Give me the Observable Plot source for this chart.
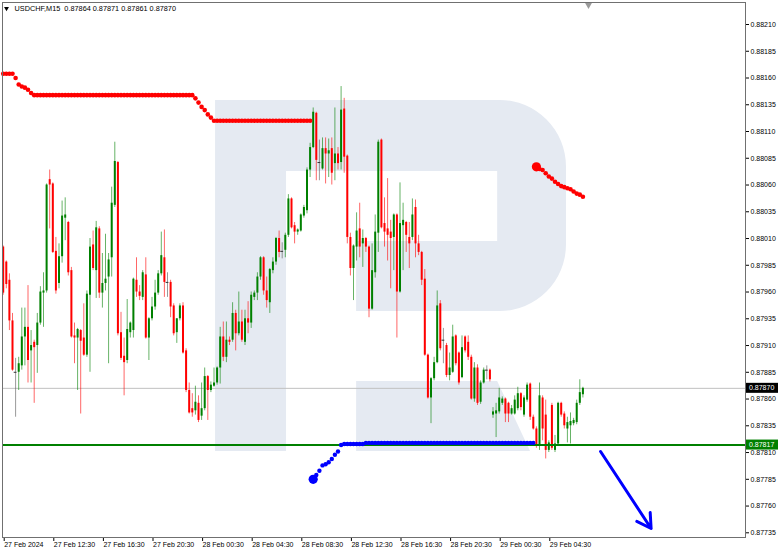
<!DOCTYPE html>
<html><head><meta charset="utf-8">
<script src="https://cdn.jsdelivr.net/npm/d3@7"></script>
<script src="https://cdn.jsdelivr.net/npm/@observablehq/plot@0.6"></script>
<style>
html,body{margin:0;padding:0;background:#fff;}
#chart svg{display:block;}
</style></head><body><div id="chart"></div>
<script>
const symbol = "USDCHF", timeframe = "M15";

// OHLC of each M15 bar (bar 0 = 27 Feb 08:30)
const open = [
0.88002,0.87988,0.87971,0.87933,0.87885,0.87885,0.87891,0.87918,0.87927,0.87905,
0.87913,0.87910,0.87931,0.87959,0.87961,0.88065,0.88061,0.87998,0.87968,0.87993,
0.88029,0.88025,0.87980,0.87919,0.87917,0.87924,0.87917,0.87901,0.87957,0.88004,
0.87980,0.88019,0.87959,0.87968,0.87974,0.87992,0.88041,0.88081,0.87922,0.87900,
0.87896,0.87922,0.87924,0.87971,0.87960,0.87955,0.87976,0.87917,0.87935,0.87946,
0.87959,0.87977,0.87992,0.87969,0.87969,0.87947,0.87922,0.87935,0.87947,0.87905,
0.87868,0.87851,0.87849,0.87856,0.87844,0.87851,0.87881,0.87868,0.87872,0.87875,
0.87889,0.87918,0.87899,0.87915,0.87915,0.87940,0.87921,0.87932,0.87913,0.87935,
0.87931,0.87955,0.87959,0.87974,0.87992,0.87961,0.87950,0.87980,0.87988,0.88010,
0.87998,0.87999,0.88013,0.88047,0.88022,0.88016,0.88017,0.88031,0.88036,0.88074,
0.88095,0.88127,0.88081,0.88075,0.88094,0.88089,0.88094,0.88080,0.88089,0.88081,
0.88131,0.88087,0.88011,0.87982,0.88002,0.88019,0.88005,0.88010,0.88002,0.87944,
0.87978,0.88015,0.88102,0.88024,0.88019,0.88016,0.88011,0.88032,0.87960,0.88022,
0.88025,0.88011,0.88011,0.88039,0.88005,0.87997,0.87972,0.87901,0.87861,0.87879,
0.87894,0.87949,0.87915,0.87910,0.87882,0.87885,0.87919,0.87903,0.87880,0.87918,
0.87913,0.87899,0.87860,0.87889,0.87857,0.87875,0.87887,0.87887,0.87845,0.87846,
0.87848,0.87856,0.87860,0.87856,0.87846,0.87846,0.87851,0.87865,0.87845,0.87859,
0.87874,0.87843,0.87832,0.87817,0.87861,0.87845,0.87812,0.87854,0.87812,0.87818,
0.87856,0.87846,0.87832,0.87835,0.87837,0.87838,0.87856,0.87864];
const high = [
0.88003,0.87989,0.87977,0.87940,0.87898,0.87899,0.87945,0.87945,0.87966,0.87924,
0.87915,0.87940,0.87965,0.87978,0.88061,0.88074,0.88062,0.88011,0.88005,0.88045,
0.88048,0.88026,0.87983,0.87931,0.87926,0.87925,0.87949,0.87961,0.88010,0.88017,
0.88026,0.88021,0.87996,0.88014,0.87996,0.88058,0.88100,0.88082,0.87941,0.87917,
0.87953,0.87932,0.87973,0.87992,0.87966,0.87980,0.87992,0.87936,0.87955,0.87971,
0.87980,0.88016,0.88018,0.87978,0.87971,0.87949,0.87935,0.87949,0.87950,0.87907,
0.87875,0.87865,0.87872,0.87863,0.87875,0.87889,0.87882,0.87876,0.87889,0.87890,
0.87927,0.87932,0.87932,0.87918,0.87950,0.87943,0.87960,0.87943,0.87943,0.87951,
0.87960,0.87961,0.87978,0.87993,0.87993,0.87974,0.87982,0.87992,0.88011,0.88017,
0.88006,0.88015,0.88051,0.88048,0.88025,0.88019,0.88033,0.88041,0.88076,0.88099,
0.88132,0.88128,0.88102,0.88104,0.88104,0.88103,0.88104,0.88132,0.88095,0.88152,
0.88141,0.88088,0.88015,0.88004,0.88034,0.88043,0.88018,0.88011,0.88003,0.88005,
0.88032,0.88102,0.88103,0.88048,0.88066,0.88027,0.88033,0.88033,0.88062,0.88043,
0.88026,0.88025,0.88047,0.88046,0.88013,0.87998,0.87981,0.87902,0.87880,0.87899,
0.87961,0.87952,0.87926,0.87912,0.87903,0.87929,0.87920,0.87904,0.87919,0.87919,
0.87919,0.87901,0.87894,0.87892,0.87877,0.87889,0.87891,0.87888,0.87852,0.87856,
0.87870,0.87862,0.87861,0.87857,0.87854,0.87863,0.87871,0.87866,0.87863,0.87875,
0.87875,0.87845,0.87834,0.87875,0.87863,0.87859,0.87821,0.87856,0.87826,0.87857,
0.87857,0.87848,0.87843,0.87847,0.87842,0.87859,0.87878,0.87871];
const low = [
0.87957,0.87963,0.87924,0.87886,0.87843,0.87868,0.87887,0.87891,0.87875,0.87875,
0.87856,0.87884,0.87929,0.87927,0.87959,0.88019,0.87996,0.87958,0.87963,0.87987,
0.88008,0.87975,0.87917,0.87893,0.87868,0.87846,0.87900,0.87899,0.87885,0.87980,
0.87954,0.87954,0.87945,0.87961,0.87893,0.87974,0.88039,0.87919,0.87896,0.87863,
0.87893,0.87917,0.87917,0.87955,0.87952,0.87952,0.87916,0.87896,0.87933,0.87943,
0.87957,0.87975,0.87955,0.87955,0.87936,0.87919,0.87912,0.87933,0.87902,0.87866,
0.87846,0.87843,0.87845,0.87838,0.87840,0.87849,0.87840,0.87866,0.87871,0.87873,
0.87874,0.87895,0.87894,0.87910,0.87913,0.87905,0.87919,0.87913,0.87910,0.87921,
0.87926,0.87952,0.87952,0.87971,0.87957,0.87945,0.87940,0.87977,0.87985,0.87992,
0.87991,0.87992,0.88011,0.88019,0.88005,0.88013,0.88016,0.88029,0.88033,0.88067,
0.88094,0.88064,0.88064,0.88074,0.88061,0.88067,0.88060,0.88064,0.88074,0.88074,
0.88071,0.88005,0.87975,0.87952,0.87989,0.87992,0.87983,0.87997,0.87936,0.87943,
0.87973,0.87997,0.88019,0.88002,0.87989,0.87963,0.87980,0.87917,0.87959,0.87980,
0.87997,0.87982,0.88008,0.87992,0.87994,0.87966,0.87900,0.87860,0.87837,0.87877,
0.87893,0.87905,0.87893,0.87880,0.87877,0.87884,0.87891,0.87873,0.87879,0.87903,
0.87896,0.87859,0.87857,0.87854,0.87855,0.87874,0.87878,0.87876,0.87842,0.87824,
0.87846,0.87854,0.87838,0.87838,0.87845,0.87845,0.87849,0.87849,0.87843,0.87857,
0.87840,0.87831,0.87814,0.87812,0.87821,0.87804,0.87810,0.87812,0.87810,0.87817,
0.87843,0.87832,0.87819,0.87818,0.87835,0.87836,0.87854,0.87861];
const close = [
0.87959,0.87967,0.87933,0.87887,0.87885,0.87893,0.87918,0.87927,0.87896,0.87910,
0.87908,0.87931,0.87960,0.87961,0.88060,0.88060,0.87997,0.87961,0.87993,0.88031,
0.88032,0.87978,0.87918,0.87917,0.87925,0.87914,0.87901,0.87958,0.88002,0.87982,
0.88020,0.87959,0.87968,0.87972,0.87990,0.88043,0.88082,0.87921,0.87898,0.87894,
0.87925,0.87931,0.87972,0.87960,0.87956,0.87978,0.87917,0.87935,0.87946,0.87959,
0.87977,0.87994,0.87969,0.87969,0.87946,0.87921,0.87935,0.87947,0.87903,0.87868,
0.87847,0.87847,0.87857,0.87840,0.87851,0.87881,0.87868,0.87873,0.87875,0.87889,
0.87918,0.87899,0.87915,0.87913,0.87940,0.87921,0.87932,0.87915,0.87935,0.87931,
0.87957,0.87959,0.87974,0.87992,0.87961,0.87952,0.87981,0.87988,0.88010,0.87997,
0.87998,0.88013,0.88047,0.88020,0.88016,0.88018,0.88032,0.88039,0.88074,0.88095,
0.88128,0.88083,0.88081,0.88094,0.88089,0.88092,0.88071,0.88089,0.88080,0.88130,
0.88086,0.88011,0.87982,0.88003,0.88017,0.88002,0.88010,0.88002,0.87944,0.87980,
0.88016,0.88100,0.88020,0.88016,0.88013,0.88010,0.88032,0.87960,0.88024,0.88027,
0.88013,0.88005,0.88032,0.88005,0.87997,0.87971,0.87901,0.87861,0.87879,0.87894,
0.87947,0.87907,0.87915,0.87882,0.87889,0.87918,0.87893,0.87875,0.87908,0.87905,
0.87899,0.87860,0.87889,0.87856,0.87875,0.87887,0.87887,0.87878,0.87848,0.87849,
0.87861,0.87860,0.87846,0.87846,0.87851,0.87859,0.87865,0.87852,0.87861,0.87873,
0.87843,0.87832,0.87817,0.87863,0.87832,0.87812,0.87819,0.87814,0.87818,0.87856,
0.87845,0.87835,0.87838,0.87839,0.87840,0.87856,0.87866,0.87870];

// time axis (tick every 16 bars = 4 hours)
const xTickBars = [0,16,32,48,64,80,96,112,128,144,160,176];
const xTickLabels = ["27 Feb 2024","27 Feb 12:30","27 Feb 16:30","27 Feb 20:30","28 Feb 00:30","28 Feb 04:30",
  "28 Feb 08:30","28 Feb 12:30","28 Feb 16:30","28 Feb 20:30","29 Feb 00:30","29 Feb 04:30"];
const yTicks = [0.88210,0.88185,0.88160,0.88135,0.88110,0.88085,0.88060,0.88035,0.88010,0.87985,
  0.87960,0.87935,0.87910,0.87885,0.87860,0.87835,0.87810,0.87785,0.87760,0.87735];

// trailing-stop style dotted indicator
const redStop1Start = 0;
const redStop1 = [
0.88164,0.88164,0.88164,0.88164,0.88160,0.88154,0.88152,0.88151,0.88149,0.88146,
0.88144,0.88144,0.88144,0.88144,0.88144,0.88144,0.88144,0.88144,0.88144,0.88144,
0.88144,0.88144,0.88144,0.88144,0.88144,0.88144,0.88144,0.88144,0.88144,0.88144,
0.88144,0.88144,0.88144,0.88144,0.88144,0.88144,0.88144,0.88144,0.88144,0.88144,
0.88144,0.88144,0.88144,0.88144,0.88144,0.88144,0.88144,0.88144,0.88144,0.88144,
0.88144,0.88144,0.88144,0.88144,0.88144,0.88144,0.88144,0.88144,0.88144,0.88144,
0.88144,0.88144,0.88141,0.88137,0.88133,0.88130,0.88126,0.88123,0.88120,0.88120,
0.88120,0.88120,0.88120,0.88120,0.88120,0.88120,0.88120,0.88120,0.88120,0.88120,
0.88120,0.88120,0.88120,0.88120,0.88120,0.88120,0.88120,0.88120,0.88120,0.88120,
0.88120,0.88120,0.88120,0.88120,0.88120,0.88120,0.88120,0.88120,0.88120,0.88120];
const blueStopStart = 100;
const blueStop = [
0.87785,0.87789,0.87793,0.87798,0.87799,0.87801,0.87804,0.87808,0.87811,0.87817,
0.87818,0.87818,0.87818,0.87818,0.87818,0.87818,0.87818,0.87819,0.87819,0.87819,
0.87819,0.87819,0.87819,0.87819,0.87819,0.87819,0.87819,0.87819,0.87819,0.87819,
0.87819,0.87819,0.87819,0.87819,0.87819,0.87819,0.87819,0.87819,0.87819,0.87819,
0.87819,0.87819,0.87819,0.87819,0.87819,0.87819,0.87819,0.87819,0.87819,0.87819,
0.87819,0.87819,0.87819,0.87819,0.87819,0.87819,0.87819,0.87819,0.87819,0.87819,
0.87819,0.87819,0.87819,0.87819,0.87819,0.87819,0.87819,0.87819,0.87819,0.87819,
0.87819,0.87819];
const redStop2Start = 172;
const redStop2 = [0.88077,0.88075,0.88074,0.88071,0.88068,0.88066,0.88063,0.88061,
  0.88059,0.88058,0.88057,0.88056,0.88054,0.88052,0.88051,0.88049];

const supportLevel = 0.87817;
const forecastArrow = {bar1: 192.7, price1: 0.87811, bar2: 209.0, price2: 0.87739};
const shiftBar = 188.8;

// background watermark, in chart units (bar, price)
const logo = {left: 68.5, stem: 91.4, inner: 114.0, hole: 159.5, leg: 170.1, right: 181.7,
  top: 0.88139, holeTop: 0.880726, holeBottom: 0.880072, bowl: 0.879418, legTop: 0.878764,
  bottom: 0.87811, radius: 0.00062};

const W = 782, H = 553, mL = 2, mR = 37, mT = 2, mB = 16;
const n = close.length - 1;
const bars = open.map((o, i) => ({i, o, h: high[i], l: low[i], c: close[i]}));
const color = d => d.c > d.o ? "#008000" : d.c < d.o ? "#ff0000" : "#555555";
const toDots = (arr, start) => arr.map((p, k) => ({i: start + k, p}));
const red1 = toDots(redStop1, redStop1Start);
const blue = toDots(blueStop, blueStopStart);
const red2 = toDots(redStop2, redStop2Start);
const title = `${symbol},${timeframe}\u00a0\u00a0${open[n].toFixed(5)} ${high[n].toFixed(5)} ${low[n].toFixed(5)} ${close[n].toFixed(5)}`;

const chart = Plot.plot({
  width: W, height: H, marginLeft: mL, marginRight: mR, marginTop: mT, marginBottom: mB,
  style: {fontFamily: "'Liberation Sans', Arial, sans-serif", fontSize: "7px", background: "#fff", color: "#000"},
  x: {domain: [-0.226, 239.45]},
  y: {domain: [0.8773061, 0.8823056]},
  marks: [
    Plot.ruleY([close[n]], {stroke: "#c0c0c0", strokeWidth: 1}),
    Plot.ruleX(bars, {x: "i", y1: "l", y2: "h", stroke: color, strokeWidth: 1, strokeOpacity: 0.6}),
    Plot.ruleX(bars.filter(d => d.o !== d.c), {x: "i", y1: "o", y2: "c", stroke: color, strokeWidth: 2}),
    Plot.ruleY(bars.filter(d => d.o === d.c), {y: "o", x1: d => d.i - 0.45, x2: d => d.i + 0.45, stroke: "#333333"}),
    Plot.ruleY([supportLevel], {stroke: "#008000", strokeWidth: 2}),
    Plot.dot(red1, {x: "i", y: "p", r: 2.3, fill: "#ff0000"}),
    Plot.dot(red2, {x: "i", y: "p", r: 2.3, fill: "#ff0000"}),
    Plot.dot(blue, {x: "i", y: "p", r: 2.2, fill: "#0000ff"}),
    Plot.dot([red2[0]], {x: "i", y: "p", r: 4.6, fill: "#ff0000"}),
    Plot.dot([blue[0]], {x: "i", y: "p", r: 4.6, fill: "#0000ff"}),
    Plot.arrow([forecastArrow], {x1: "bar1", y1: "price1", x2: "bar2", y2: "price2",
      stroke: "#0000ff", strokeWidth: 3, headLength: 8, headAngle: 60}),
    Plot.axisY({anchor: "right", ticks: yTicks, tickFormat: d => d.toFixed(5), tickSize: 3, tickPadding: 2}),
    Plot.axisX({ticks: xTickBars, tickFormat: d => xTickLabels[xTickBars.indexOf(d)],
      tickSize: 4, tickPadding: 1, textAnchor: "start", dx: 1}),
    Plot.frame({stroke: "#707070"}),
    Plot.text([title], {frameAnchor: "top-left", dx: 12, dy: 3, lineAnchor: "top", textAnchor: "start", fontSize: 7.3}),
    Plot.dot([0], {frameAnchor: "top-left", dx: 4, dy: 6, symbol: "triangle", rotate: 180, r: 1.8, fill: "#000"}),
    Plot.dot([shiftBar], {x: d => d, frameAnchor: "top", dy: 2.5, symbol: "triangle", rotate: 180, r: 2.5, fill: "#9a9a9a"})
  ]
});

// watermark and price labels, placed through the chart's scales
const sx = chart.scale("x"), sy = chart.scale("y");
const X = v => sx.apply(v), Y = v => sy.apply(v);
const svg = d3.select(chart);
const r = Y(logo.top - logo.radius) - Y(logo.top);
const wm = svg.insert("g", "g").attr("fill", "#e5eaf2");
wm.append("path").attr("d",
  `M${X(logo.left)},${Y(logo.top)} H${X(logo.right) - r} A${r},${r} 0 0 1 ${X(logo.right)},${Y(logo.top) + r}` +
  ` V${Y(logo.bowl) - r} A${r},${r} 0 0 1 ${X(logo.right) - r},${Y(logo.bowl)} H${X(logo.inner)} V${Y(logo.holeBottom)}` +
  ` H${X(logo.hole)} V${Y(logo.holeTop)} H${X(logo.stem)} V${Y(logo.bottom)} H${X(logo.left)} Z`);
wm.append("path").attr("d",
  `M${X(logo.inner)},${Y(logo.legTop)} H${X(logo.hole)} L${X(logo.leg)},${Y(logo.bottom)} H${X(logo.inner)} Z`);

const labelX = W - mR + 1;
[{p: close[n], fill: "#000000"}, {p: supportLevel, fill: "#008000"}].forEach(({p, fill}) => {
  const y = Y(p);
  svg.append("rect").attr("x", labelX).attr("y", y - 5).attr("width", 32).attr("height", 10).attr("fill", fill);
  svg.append("text").attr("x", labelX + 3).attr("y", y).attr("dy", "0.34em").attr("fill", "#fff")
    .attr("text-anchor", "start").attr("font-size", 7).text(p.toFixed(5));
});

document.getElementById("chart").appendChild(chart);
</script>
</body></html>
